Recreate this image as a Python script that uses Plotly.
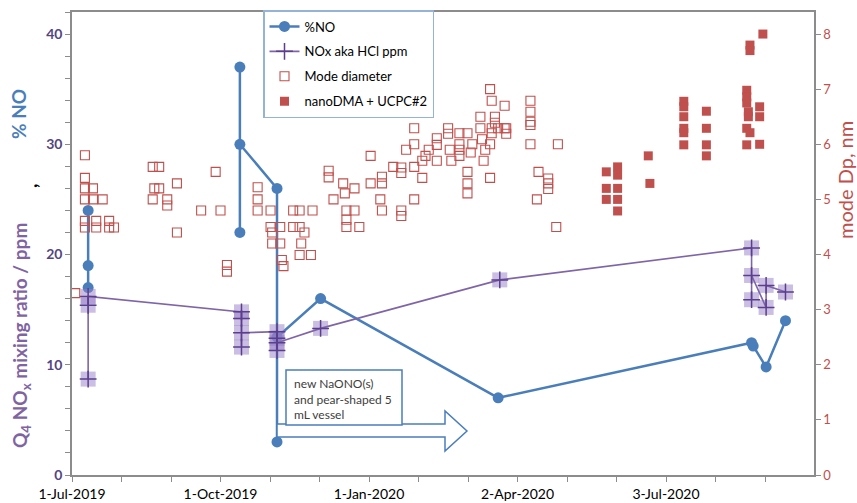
import plotly.graph_objects as go

# ---- %NO (left axis) ----
no_dates = ["2019-07-11", "2019-07-11", "2019-07-11", None,
            "2019-10-13", "2019-10-13", "2019-10-13",
            "2019-11-05", "2019-11-05", "2019-11-05",
            "2019-12-02", "2020-03-21",
            "2020-08-25", "2020-08-26", "2020-09-03", "2020-09-15"]
no_vals = [24, 19, 17, None,
           37, 22, 30,
           26, 3, 12.5,
           16, 7,
           12.0, 11.7, 9.8, 14.0]

# ---- NOx aka HCl ppm (left axis) ----
nox_dates = ["2019-07-11"] * 3 + ["2019-10-14"] * 4 + ["2019-11-05"] * 4 + \
            ["2019-12-02", "2020-03-22",
             "2020-08-25", "2020-08-25", "2020-08-25",
             "2020-09-03", "2020-09-03", "2020-09-15"]
nox_vals = [8.7, 15.4, 16.2,
            14.8, 11.6, 14.2, 12.9,
            13.0, 11.3, 12.4, 12.0,
            13.3, 17.7,
            20.6, 15.9, 18.1,
            15.2, 17.2, 16.6]

# ---- Mode diameter (right axis, nm) ----
mode_dates = [
    "2019-07-03",
    "2019-07-09", "2019-07-09", "2019-07-09", "2019-07-09", "2019-07-09", "2019-07-09",
    "2019-07-14", "2019-07-14", "2019-07-16", "2019-07-16", "2019-07-20",
    "2019-07-24", "2019-07-24", "2019-07-27",
    "2019-08-20", "2019-08-24", "2019-08-21", "2019-08-24", "2019-08-20", "2019-08-29", "2019-08-29",
    "2019-09-04", "2019-09-04", "2019-09-19", "2019-09-28", "2019-10-01", "2019-10-05", "2019-10-05",
    "2019-10-24", "2019-10-24", "2019-10-24", "2019-11-01",
    "2019-11-01", "2019-11-07", "2019-11-02", "2019-11-02", "2019-11-07", "2019-11-08", "2019-11-09",
    "2019-11-15", "2019-11-19", "2019-11-27", "2019-11-15", "2019-11-19", "2019-11-22",
    "2019-11-20", "2019-11-19", "2019-11-26",
    "2019-12-10", "2019-12-16", "2019-12-17", "2019-12-18", "2019-12-18", "2019-12-18",
    "2019-12-23", "2019-12-23", "2019-12-26", "2019-12-07", "2019-12-07",
    "2020-01-02", "2020-01-02", "2020-01-08", "2020-01-09", "2020-01-09", "2020-01-09",
    "2020-01-16", "2020-01-21", "2020-01-21", "2020-01-21", "2020-01-21", "2020-01-24",
    "2020-01-29", "2020-01-29", "2020-01-29", "2020-01-29",
    "2020-02-03", "2020-02-03", "2020-02-05", "2020-02-07", "2020-02-12", "2020-02-12", "2020-02-12",
    "2020-02-19", "2020-02-19", "2020-02-20", "2020-02-21",
    "2020-02-26", "2020-02-26", "2020-02-26", "2020-02-26",
    "2020-03-02", "2020-03-02", "2020-03-02", "2020-03-02", "2020-03-04", "2020-03-05",
    "2020-03-10", "2020-03-10", "2020-03-11", "2020-03-13", "2020-03-12",
    "2020-03-16", "2020-03-16", "2020-03-16", "2020-03-17", "2020-03-17", "2020-03-17",
    "2020-03-19", "2020-03-19", "2020-03-21", "2020-03-25", "2020-03-25", "2020-03-26", "2020-03-26",
    "2020-04-10", "2020-04-10", "2020-04-10", "2020-04-10", "2020-04-10",
    "2020-04-14", "2020-04-15", "2020-04-21", "2020-04-21", "2020-04-21", "2020-04-27", "2020-04-26",
]
mode_vals = [
    3.30,
    5.80, 5.39, 5.20, 5.00, 4.61, 4.49,
    5.20, 5.00, 4.61, 4.49, 5.00,
    4.61, 4.49, 4.49,
    5.59, 5.59, 5.20, 5.20, 5.00, 5.00, 4.89,
    5.29, 4.40, 4.80, 5.50, 4.80, 3.81, 3.69,
    5.22, 5.00, 4.80, 4.80,
    4.50, 4.50, 4.40, 4.20, 4.20, 3.90, 3.79,
    4.80, 4.80, 4.80, 4.50, 4.50, 4.40,
    4.20, 3.99, 3.99,
    5.00, 5.29, 5.11, 4.80, 4.63, 4.50,
    5.20, 4.80, 4.50, 5.52, 5.40,
    5.79, 5.29, 5.00, 5.41, 5.29, 4.80,
    5.59, 5.58, 5.48, 4.80, 4.70, 5.90,
    6.29, 6.00, 5.59, 5.00,
    5.70, 5.39, 5.79, 5.90, 6.11, 5.99, 5.70,
    6.29, 6.19, 5.90, 5.70,
    6.20, 5.90, 6.00, 5.79,
    6.20, 5.50, 5.29, 5.11, 5.85, 6.00,
    6.50, 6.29, 6.09, 5.90, 5.70,
    6.00, 5.39, 7.00, 6.29, 6.79, 6.20,
    6.50, 6.39, 6.29, 6.70, 6.29, 6.29, 6.19,
    6.79, 6.59, 6.41, 6.35, 6.00,
    5.00, 5.50, 5.38, 5.29, 5.19, 6.00, 4.50,
]

# ---- nanoDMA + UCPC#2 (right axis, nm) ----
dma_dates = [
    "2020-05-27", "2020-05-27", "2020-05-27",
    "2020-06-03", "2020-06-03", "2020-06-03", "2020-06-03", "2020-06-03",
    "2020-06-22", "2020-06-23",
    "2020-07-14", "2020-07-14", "2020-07-14", "2020-07-14", "2020-07-14", "2020-07-14",
    "2020-07-28", "2020-07-28", "2020-07-28", "2020-07-28",
    "2020-08-22", "2020-08-22", "2020-08-22", "2020-08-23", "2020-08-23", "2020-08-22",
    "2020-08-24", "2020-08-22", "2020-08-24", "2020-08-24",
    "2020-08-30", "2020-08-30", "2020-08-30", "2020-09-01",
]
dma_vals = [
    5.50, 5.20, 5.00,
    5.59, 5.44, 5.20, 5.00, 4.79,
    5.79, 5.29,
    6.78, 6.68, 6.50, 6.29, 6.21, 5.99,
    6.60, 6.29, 5.99, 5.79,
    6.98, 6.86, 6.75, 6.59, 6.50, 6.29,
    6.21, 5.99, 7.80, 7.70,
    6.68, 6.50, 6.00, 8.00,
]

tick_dates = ["2019-07-01", "2019-10-01", "2020-01-01", "2020-04-02", "2020-07-03"]
tick_text = ["1-Jul-2019", "1-Oct-2019", "1-Jan-2020", "2-Apr-2020", "3-Jul-2020"]

BLUE = "#4a7ebb"
PURPLE = "#7f65a8"
PURPLE_DARK = "#5b3f8c"
RED = "#c0504d"
AXIS = "#8c8c8c"
FONT = "Lato"

fig = go.Figure()

fig.add_trace(go.Scatter(
    x=no_dates, y=no_vals, name="%NO", mode="lines+markers",
    line=dict(color=BLUE, width=2.5), connectgaps=False,
    marker=dict(symbol="circle", size=11, color=BLUE),
    legendgroup="g1",
))
fig.add_trace(go.Scatter(
    x=nox_dates, y=nox_vals, mode="markers", showlegend=False,
    marker=dict(symbol="square", size=15, color="rgba(150,125,200,0.5)", line=dict(width=0)),
    legendgroup="g2", hoverinfo="skip",
))
fig.add_trace(go.Scatter(
    x=nox_dates, y=nox_vals, name="NOx aka HCl ppm", mode="lines+markers",
    line=dict(color=PURPLE, width=1.6),
    marker=dict(symbol="cross-thin", size=12, color=PURPLE_DARK,
                line=dict(color=PURPLE_DARK, width=1.5)),
    legendgroup="g2",
))
fig.add_trace(go.Scatter(
    x=mode_dates, y=mode_vals, name="Mode diameter", mode="markers", yaxis="y2",
    marker=dict(symbol="square-open", size=9, color=RED, line=dict(width=1.1)),
    legendgroup="g3",
))
fig.add_trace(go.Scatter(
    x=dma_dates, y=dma_vals, name="nanoDMA + UCPC#2", mode="markers", yaxis="y2",
    marker=dict(symbol="square", size=9, color=RED),
    legendgroup="g4",
))

L, R, T, B = 72, 43, 12, 28
W, H = 857, 503
PW, PH = W - L - R, H - T - B


def px(x, y):
    """pixel position inside the page -> paper coordinates"""
    return (x - L) / PW, (H - B - y) / PH


# block arrow from the vessel change onward
pts = [(277, 424), (445, 424), (445, 411), (467, 431), (445, 451), (445, 437), (277, 437)]
path = "M " + " L ".join(f"{px(a, b)[0]:.4f},{px(a, b)[1]:.4f}" for a, b in pts) + " Z"
fig.add_shape(type="path", xref="paper", yref="paper", path=path,
              line=dict(color=BLUE, width=1.5), fillcolor="white", layer="above")

bx0, by0 = px(286, 425)
bx1, by1 = px(402, 370)
fig.add_shape(type="rect", xref="paper", yref="paper", x0=bx0, y0=by0, x1=bx1, y1=by1,
              line=dict(color=BLUE, width=1.5), fillcolor="white", layer="above")
tx, ty = px(292, 374)
fig.add_annotation(xref="paper", yref="paper", x=tx, y=ty, xanchor="left", yanchor="top",
                   text="new NaONO(s)<br>and pear-shaped 5<br>mL vessel", showarrow=False,
                   align="left", font=dict(family=FONT, size=12, color="#404040"))

# left axis title in three coloured pieces
ax, ay = px(21, 336)
fig.add_annotation(xref="paper", yref="paper", x=ax, y=ay, textangle=-90, showarrow=False,
                   xanchor="center", yanchor="middle",
                   text="<b>Q<sub>4</sub> NO<sub>x</sub> mixing ratio / ppm</b>",
                   font=dict(family=FONT, size=19, color="#8064a2"))
cx, cy = px(29, 186)
fig.add_annotation(xref="paper", yref="paper", x=cx, y=cy, textangle=-90, showarrow=False,
                   xanchor="center", yanchor="middle",
                   text="<b>,</b>", font=dict(family=FONT, size=19, color="black"))
nx, ny = px(19, 114)
fig.add_annotation(xref="paper", yref="paper", x=nx, y=ny, textangle=-90, showarrow=False,
                   xanchor="center", yanchor="middle",
                   text="<b>% NO</b>", font=dict(family=FONT, size=19, color=BLUE))
rx, ry = px(845, 180)
fig.add_annotation(xref="paper", yref="paper", x=rx, y=ry, textangle=-90, showarrow=False,
                   xanchor="center", yanchor="middle",
                   text="mode Dp, nm", font=dict(family=FONT, size=20, color=RED))

lx, ly = px(263, 10)
fig.update_layout(
    width=W, height=H,
    margin=dict(l=L, r=R, t=T, b=B, autoexpand=False),
    paper_bgcolor="white", plot_bgcolor="white",
    font=dict(family=FONT, size=13, color="black"),
    showlegend=True,
    legend=dict(x=lx, y=ly, xanchor="left", yanchor="top",
                bgcolor="white", bordercolor="#95b3d7", borderwidth=1.5,
                font=dict(family=FONT, size=13, color="black"),
                tracegroupgap=5, itemwidth=30),
    xaxis=dict(
        type="date", range=["2019-07-01", "2020-10-02 16:00"], automargin=False,
        tickmode="array", tickvals=tick_dates, ticktext=tick_text,
        ticks="outside", ticklen=5, tickcolor=AXIS,
        minor=dict(tick0="2019-07-01", dtick=92 / 3 * 86400000, ticks="outside",
                   ticklen=5, tickcolor=AXIS, showgrid=False),
        showline=True, linecolor=AXIS, linewidth=1.5, mirror=True,
        showgrid=False, zeroline=False,
        tickfont=dict(family=FONT, size=14, color="black"),
    ),
    yaxis=dict(
        range=[0, 42], tickvals=[0, 10, 20, 30, 40], automargin=False,
        ticks="outside", ticklen=5, tickcolor=AXIS,
        minor=dict(dtick=2, ticks="outside", ticklen=5, tickcolor=AXIS, showgrid=False),
        showline=True, linecolor=AXIS, linewidth=1.5,
        showgrid=False, zeroline=False,
        tickfont=dict(family=FONT, size=14, color="#54457f", weight="bold"),
    ),
    yaxis2=dict(
        range=[0, 8.4], dtick=1, overlaying="y", side="right", automargin=False,
        ticks="outside", ticklen=5, tickcolor=AXIS,
        showline=True, linecolor=AXIS, linewidth=1.5,
        showgrid=False, zeroline=False,
        tickfont=dict(family=FONT, size=13, color=RED),
    ),
)

fig.write_html("out.html")
